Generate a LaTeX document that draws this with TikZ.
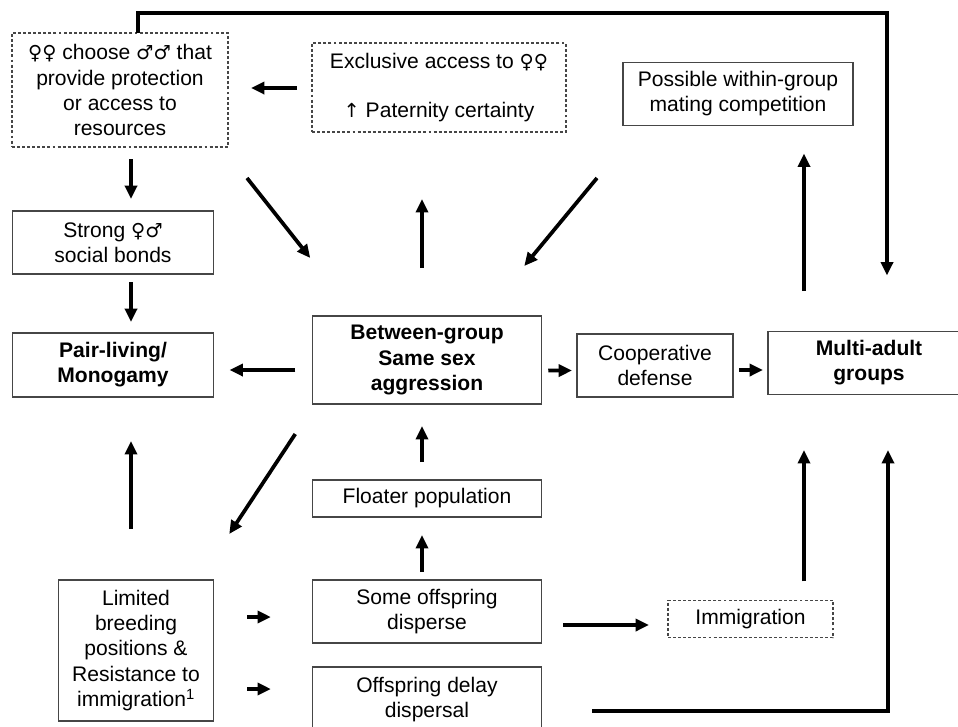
\documentclass[tikz,border=0pt]{standalone}
\usepackage{fontspec}
\setmainfont{Liberation Sans}
\newfontfamily\symfont[Scale=0.92]{DejaVu Sans}
\usetikzlibrary{arrows.meta,calc}
\definecolor{boxgray}{RGB}{70, 70, 70}
\newcommand{\fsym}{{\symfont ♀}}
\newcommand{\msym}{{\symfont ♂}}
\newcommand{\upsym}{{\symfont ↑}}
\tikzset{
    box/.style={draw=boxgray, line width=0.8pt, inner sep=0pt, outer sep=0pt, align=center,
        font=\fontsize{15.8}{18.8}\selectfont},
    dashbox/.style={box, dash pattern=on 2.2pt off 1.6pt},
    boldbox/.style={box, font=\fontsize{15.8}{18.8}\selectfont\bfseries},
    boxsize/.style 2 args={minimum width=#1*0.75pt, minimum height=#2*0.75pt},
    arr/.style={line width=2.8pt, -{Triangle[length=10pt, width=9pt]}},
}

\begin{document}
\begin{tikzpicture}[x=0.75pt, y=-0.75pt]
    \useasboundingbox (0,0) rectangle (958,726);

    % top row
    \node[dashbox, boxsize={216}{114}] (choose) at (120,90) {\fsym\fsym{} choose \msym\msym{} that\\provide protection\\or access to\\resources};
    \node[dashbox, boxsize={254}{89}] (access) at (439,87.5) {Exclusive access to \fsym\fsym\\[18pt]\upsym{} Paternity certainty};
    \node[box, boxsize={230}{63}] (within) at (738,94) {Possible within-group\\mating competition};
    \node[box, boxsize={201}{63}] (bonds) at (113,242.5) {Strong \fsym\msym\\social bonds};

    % middle row
    \node[boldbox, boxsize={201}{64}] (pair) at (113,365) {Pair-living/\\Monogamy};
    \node[boldbox, boxsize={229.5}{88}] (aggr) at (427,360) {Between-group\\Same sex\\aggression};
    \node[box, boxsize={156}{63}] (coop) at (655,365.5) {Cooperative\\defense};
    \node[boldbox, boxsize={202}{63}] (multi) at (869,363) {Multi-adult\\groups};
    \node[box, boxsize={229.5}{37}] (floater) at (427,498.5) {Floater population};

    % bottom row
    \node[box, boxsize={155.5}{141}] (limited) at (136,650.5) {Limited\\breeding\\positions \&\\Resistance to\\immigration\textsuperscript{1}};
    \node[box, boxsize={229.5}{63}] (disperse) at (427,611.5) {Some offspring\\disperse};
    \node[box, boxsize={229.5}{66}] (delay) at (427,700) {Offspring delay\\dispersal};
    \node[dashbox, boxsize={165}{37.5}] (immig) at (750.5,619) {Immigration};

    % arrows
    \draw[arr] ($(access.west)+(-15,0.5)$) -- ($(choose.east)+(23,-2)$);
    \draw[arr] ($(choose.south)+(11,12)$) -- ($(bonds.north)+(18,-12)$);
    \draw[arr] ($(choose.south east)+(19,31)$) -- ($(aggr.north west)+(-2,-58)$);
    \draw[arr] ($(aggr.north)+(-5,-48)$) -- ($(access.south)+(-17,67)$);
    \draw[arr] ($(access.south east)+(31,46)$) -- ($(aggr.north east)+(-17.5,-50)$);
    \draw[arr] ($(multi.north)+(-65,-40.5)$) -- ($(within.south)+(66,28)$);
    \draw[arr] ($(choose.north)+(18,0)$) -- ++(0,-20) -| ($(multi.north)+(18,-56)$);
    \draw[arr] ($(bonds.south)+(18,8)$) -- ($(pair.north)+(18,-11)$);
    \draw[arr] ($(aggr.west)+(-17,10)$) -- ($(pair.east)+(16,5)$);
    \draw[arr] ($(aggr.east)+(6.5,10.6)$) -- ($(coop.west)+(-5,5)$);
    \draw[arr] ($(coop.east)+(6,4.5)$) -- ($(multi.west)+(-5,7)$);
    \draw[arr] ($(aggr.south west)+(-17,30)$) -- ($(limited.north east)+(15.5,-46)$);
    \draw[arr] ($(limited.north)+(-5,-51)$) -- ($(pair.south)+(18,44)$);
    \draw[arr] ($(floater.north)+(-5,-18)$) -- ($(aggr.south)+(-5,22)$);
    \draw[arr] ($(disperse.north)+(-5,-8)$) -- ($(floater.south)+(-5,18)$);
    \draw[arr] ($(limited.east)+(33.5,-33.5)$) -- ($(disperse.west)+(-41.4,5.5)$);
    \draw[arr] ($(limited.east)+(33.5,38.5)$) -- ($(delay.west)+(-41.4,-11)$);
    \draw[arr] ($(disperse.east)+(21.5,13.5)$) -- ($(immig.west)+(-19,6)$);
    \draw[arr] ($(immig.north)+(53.5,-19)$) -- ($(multi.south)+(-65,55.5)$);
    \draw[arr] ($(delay.east)+(50.5,11)$) -| ($(multi.south)+(19,55.5)$);
\end{tikzpicture}
\end{document}
